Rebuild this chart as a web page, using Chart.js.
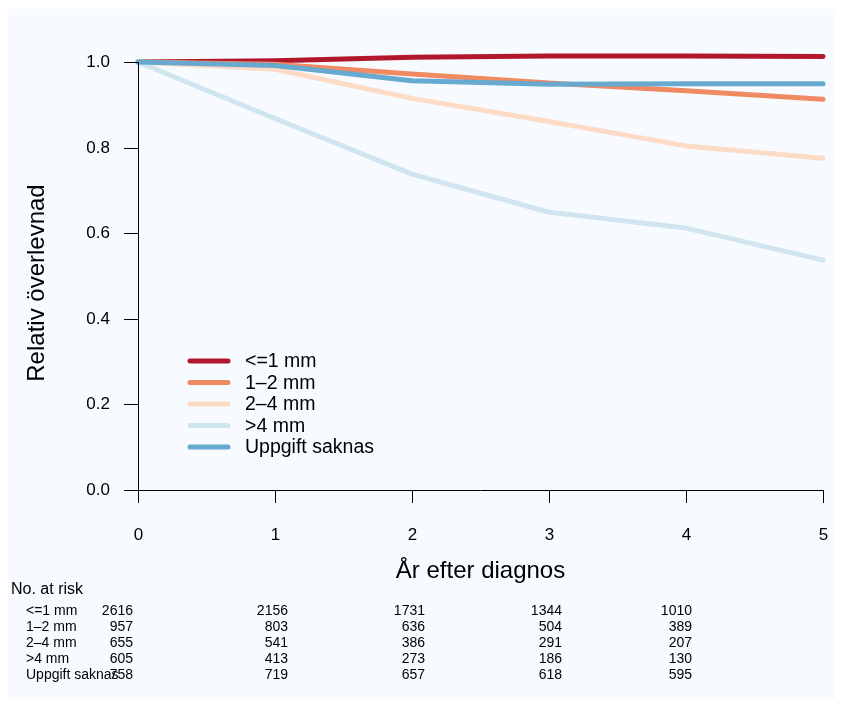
<!DOCTYPE html>
<html>
<head>
<meta charset="utf-8">
<script src="https://cdn.jsdelivr.net/npm/chart.js@4"></script>
<style>
  html, body { margin: 0; padding: 0; background: #ffffff; }
  canvas { display: block; }
</style>
</head>
<body>
<canvas id="surv" width="843" height="708"></canvas>
<script>
// years after diagnosis
var years = [0, 1, 2, 3, 4, 5];

// relative survival by tumour thickness
var surv_le1     = [1.000, 1.003, 1.011, 1.014, 1.014, 1.013];
var surv_1to2    = [1.000, 0.995, 0.972, 0.951, 0.933, 0.913];
var surv_2to4    = [1.000, 0.983, 0.915, 0.861, 0.804, 0.775];
var surv_gt4     = [1.000, 0.868, 0.738, 0.649, 0.612, 0.537];
var surv_missing = [1.000, 0.992, 0.956, 0.948, 0.949, 0.949];

var groupLabels = ['<=1 mm', '1\u20132 mm', '2\u20134 mm', '>4 mm', 'Uppgift saknas'];
var groupColors = ['#B2182B', '#EF8A62', '#FDDBC7', '#D1E5F0', '#67A9CF'];

// axis ticks
var xTicks = [0, 1, 2, 3, 4, 5];
var yTicks = [0.0, 0.2, 0.4, 0.6, 0.8, 1.0];

// number at risk table
var riskTimes    = [0, 1, 2, 3, 4];
var risk_le1     = [2616, 2156, 1731, 1344, 1010];
var risk_1to2    = [957, 803, 636, 504, 389];
var risk_2to4    = [655, 541, 386, 291, 207];
var risk_gt4     = [605, 413, 273, 186, 130];
var risk_missing = [758, 719, 657, 618, 595];

var FONT = '"Liberation Sans", Arial, Helvetica, sans-serif';

// how far each risk column's right edge sits from its time tick (px)
var riskColShift = [-5, 13, 13, 13, 6];

function makePoints(xs, ys) {
	var pts = [];
	for (var i = 0; i < xs.length; i++) pts.push({ x: xs[i], y: ys[i] });
	return pts;
}

var allSurv = [surv_le1, surv_1to2, surv_2to4, surv_gt4, surv_missing];
var allRisk = [risk_le1, risk_1to2, risk_2to4, risk_gt4, risk_missing];

var aDatasets = [];
for (var i = 0; i < allSurv.length; i++) {
	aDatasets.push({
		label: groupLabels[i],
		data: makePoints(years, allSurv[i]),
		borderColor: groupColors[i],
		backgroundColor: groupColors[i],
		borderWidth: 5,
		borderCapStyle: 'round',
		borderJoinStyle: 'round',
		pointRadius: 0,
		fill: false,
		tension: 0,
		clip: false,
		order: allSurv.length - i   // later groups drawn on top, like R
	});
}

// background, axes, legend and risk table drawn with the chart's scales
var decorPlugin = {
	id: 'decor',
	beforeDraw: function(chart) {
		var ctx = chart.ctx;
		ctx.save();
		ctx.fillStyle = '#ffffff';
		ctx.fillRect(0, 0, chart.width, chart.height);
		ctx.fillStyle = '#F7FBFF';
		ctx.fillRect(8, 9, 827, 690);
		ctx.restore();
	},
	afterDraw: function(chart) {
		var ctx = chart.ctx;
		var xs = chart.scales.x, ys = chart.scales.y;
		var x0 = xs.getPixelForValue(0), x5 = xs.getPixelForValue(5);
		var y0 = ys.getPixelForValue(0), y1 = ys.getPixelForValue(1);
		ctx.save();
		ctx.strokeStyle = '#000000';
		ctx.lineWidth = 1;
		ctx.fillStyle = '#000000';

		// axis lines
		ctx.beginPath();
		ctx.moveTo(Math.round(x0) + 0.5, y0);
		ctx.lineTo(Math.round(x0) + 0.5, y1);
		ctx.moveTo(x0, Math.round(y0) + 0.5);
		ctx.lineTo(x5, Math.round(y0) + 0.5);
		ctx.stroke();

		// y ticks and labels
		ctx.font = '17px ' + FONT;
		ctx.textAlign = 'right';
		ctx.textBaseline = 'middle';
		yTicks.forEach(function(v) {
			var py = Math.round(ys.getPixelForValue(v)) + 0.5;
			ctx.beginPath();
			ctx.moveTo(x0 - 14, py);
			ctx.lineTo(x0, py);
			ctx.stroke();
			ctx.fillText(v.toFixed(1), x0 - 28, py);
		});

		// x ticks and labels
		ctx.textAlign = 'center';
		xTicks.forEach(function(v) {
			var px = Math.round(xs.getPixelForValue(v)) + 0.5;
			ctx.beginPath();
			ctx.moveTo(px, y0);
			ctx.lineTo(px, y0 + 13);
			ctx.stroke();
			ctx.fillText(String(v), px, y0 + 45);
		});

		// axis titles
		ctx.font = '24px ' + FONT;
		ctx.fillText('År efter diagnos', (x0 + x5) / 2, 571);
		ctx.save();
		ctx.translate(37, 283);
		ctx.rotate(-Math.PI / 2);
		ctx.fillText('Relativ överlevnad', 0, 0);
		ctx.restore();

		// legend
		ctx.font = '19.5px ' + FONT;
		ctx.textAlign = 'left';
		var legY = [361, 382.5, 404, 425.5, 447];
		chart.data.datasets.forEach(function(ds, k) {
			ctx.beginPath();
			ctx.strokeStyle = ds.borderColor;
			ctx.lineWidth = 5;
			ctx.lineCap = 'round';
			ctx.moveTo(190, legY[k]);
			ctx.lineTo(228, legY[k]);
			ctx.stroke();
			ctx.fillText(ds.label, 245, legY[k] + 1);
		});

		// number at risk table
		ctx.font = '16px ' + FONT;
		ctx.fillText('No. at risk', 11, 590);
		ctx.font = '14px ' + FONT;
		var rowY = [611, 627, 643, 659, 675];
		for (var r = 0; r < allRisk.length; r++) {
			ctx.textAlign = 'left';
			ctx.fillText(groupLabels[r], 26, rowY[r]);
			ctx.textAlign = 'right';
			for (var c = 0; c < riskTimes.length; c++) {
				ctx.fillText(String(allRisk[r][c]), xs.getPixelForValue(riskTimes[c]) + riskColShift[c], rowY[r]);
			}
		}
		ctx.restore();
	}
};

var ctx = document.getElementById('surv');
var cfg = {
	type: 'line',
	data: { datasets: aDatasets },
	options: {
		responsive: false,
		animation: false,
		layout: { padding: { left: 138, right: 20, top: 62, bottom: 218 } },
		plugins: {
			legend: { display: false },
			title: { display: false },
			tooltip: { enabled: false }
		},
		scales: {
			x: { type: 'linear', min: 0, max: 5, display: false },
			y: { type: 'linear', min: 0, max: 1, display: false }
		}
	},
	plugins: [decorPlugin]
};
new Chart(ctx, cfg);
</script>
</body>
</html>
